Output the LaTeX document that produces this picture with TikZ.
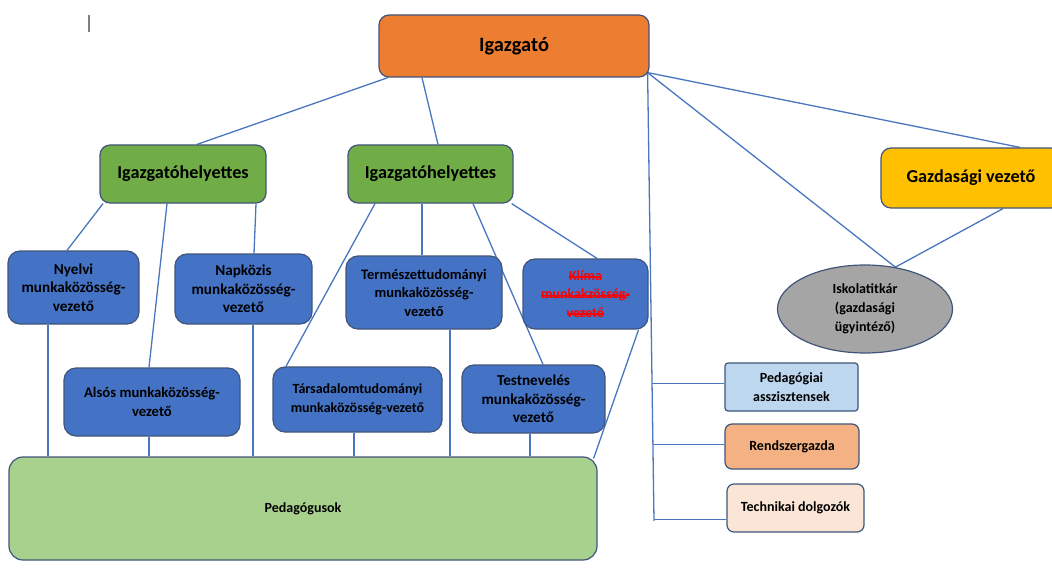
\documentclass[tikz,border=0pt]{standalone}
\usepackage{fontspec}
\setmainfont{Carlito}
\usetikzlibrary{shapes,calc,backgrounds,decorations.pathmorphing}

\definecolor{igcol}{HTML}{ED7D31}
\definecolor{hgcol}{HTML}{70AD47}
\definecolor{gvcol}{HTML}{FFC000}
\definecolor{mkcol}{HTML}{4472C4}
\definecolor{pedcol}{HTML}{A9D18E}
\definecolor{titkcol}{HTML}{A5A5A5}
\definecolor{asszcol}{HTML}{BDD7EE}
\definecolor{rendcol}{HTML}{F4B183}
\definecolor{techcol}{HTML}{FBE5D6}
\definecolor{edgecol}{HTML}{41557A}
\definecolor{linecol}{HTML}{4A76C0}
\definecolor{strikered}{HTML}{FF0000}

% Struck-through text
\newsavebox{\strkbox}
\newcommand{\strk}[1]{\sbox{\strkbox}{#1}%
    \rlap{\rule[0.42ex]{\wd\strkbox}{1.4pt}}\usebox{\strkbox}}

\begin{document}
\begin{tikzpicture}[
        x=1pt, y=-1pt,
        %
        % Looks of the boxes and the links
        box/.style={draw=edgecol, line width=1.2pt, rounded corners=10pt,
            inner sep=0pt, align=center,
            font=\bfseries\fontsize{14}{19}\selectfont},
        boss/.style={box, fill=igcol, font=\bfseries\fontsize{20.4}{24}\selectfont},
        deputy/.style={box, fill=hgcol, font=\bfseries\fontsize{18.2}{22}\selectfont},
        leader/.style={box, fill=mkcol, rounded corners=12pt,
            font=\bfseries\fontsize{15.2}{18.5}\selectfont},
        staff/.style={box, rounded corners=7pt},
        link/.style={draw=linecol, line width=1.3pt}
    ]

        % Fix the page to the size of the screenshot
        \useasboundingbox (0,0) rectangle (1052,583);

        % The stray text cursor in the top left corner
        \draw[gray, line width=1.5pt] (89,15) -- (89,32);

        % Draw the head and the two deputies
        \node[boss, minimum width=270pt, minimum height=62pt]
            (igazgato) at (514,46) {Igazgató};
        \node[deputy, minimum width=166pt, minimum height=58pt]
            (helyettesA) at (183,174) {Igazgatóhelyettes};
        \node[deputy, minimum width=165pt, minimum height=58pt]
            (helyettesB) at (430.5,174) {Igazgatóhelyettes};
        \node[deputy, fill=gvcol, minimum width=180pt, minimum height=60pt]
            (gazdasagi) at (971,178) {Gazdasági vezető};

        % Draw the upper row of the leaders
        \node[leader, minimum width=131pt, minimum height=73pt]
            (nyelvi) at (73.5,287.5) {Nyelvi\\munkaközösség-\\vezető};
        \node[leader, minimum width=137pt, minimum height=70pt]
            (napkozis) at (243.5,289) {Napközis\\munkaközösség-\\vezető};
        \node[leader, font=\bfseries\fontsize{14.5}{18.5}\selectfont,
              minimum width=156pt, minimum height=73pt]
            (termtud) at (424,292.5) {Természettudományi\\munkaközösség-\\vezető};
        \node[leader, text=strikered, font=\bfseries\fontsize{14}{18.5}\selectfont,
              minimum width=125pt, minimum height=70pt]
            (klima) at (585.5,294)
            {\strk{Klíma}\\\strk{munkakzösség-}\\\strk{vezető}};
        % The wavy spelling mark under the struck word
        \draw[strikered, line width=0.7pt,
              decorate, decoration={snake, segment length=3pt, amplitude=0.9pt}]
            ([shift={(-43pt,-3pt)}]klima.center) -- ([shift={(42pt,-3pt)}]klima.center);

        % Draw the lower row of the leaders
        \node[leader, font=\bfseries\fontsize{14.7}{18.5}\selectfont,
              minimum width=176pt, minimum height=68pt]
            (alsos) at (152,402) {Alsós munkaközösség-\\vezető};
        \node[leader, font=\bfseries\fontsize{14}{18.5}\selectfont,
              minimum width=169pt, minimum height=65pt]
            (tarsad) at (357.5,399.5) {Társadalomtudományi\\munkaközösség-vezető};
        \node[leader, minimum width=143pt, minimum height=68pt]
            (testnev) at (533.5,399) {Testnevelés\\munkaközösség-\\vezető};

        % Draw the teachers
        \node[box, fill=pedcol, rounded corners=14pt,
              minimum width=588pt, minimum height=103pt]
            (pedagogusok) at (303,508.5) {Pedagógusok};

        % Draw the school secretary
        \node[box, ellipse, fill=titkcol, minimum width=175pt, minimum height=88pt]
            (titkar) at (865,309) {Iskolatitkár\\(gazdasági\\ügyintéző)};

        % Draw the staff on the right
        \node[staff, fill=asszcol, rounded corners=3pt,
              minimum width=133pt, minimum height=48pt]
            (asszisztens) at (791.5,387) {Pedagógiai\\asszisztensek};
        \node[staff, fill=rendcol, minimum width=134pt, minimum height=45pt]
            (rendszergazda) at (792,446.5) {Rendszergazda};
        \node[staff, fill=techcol, minimum width=137pt, minimum height=48pt]
            (technikai) at (795.5,508) {Technikai dolgozók};

        % Put every link behind the boxes
        \begin{scope}[on background layer]

            % Links from the head
            \draw[link] ([xshift=-126pt]igazgato.south) -- ([xshift=14pt]helyettesA.north);
            \draw[link] ([xshift=-92pt]igazgato.south) -- ([xshift=7.5pt]helyettesB.north);
            \coordinate (corner) at ([shift={(-2pt,5pt)}]igazgato.south east);
            \draw[link] (corner) -- ([xshift=49pt]gazdasagi.north);
            \draw[link] (corner) -- (titkar.54);
            \draw[link] ([xshift=32pt]gazdasagi.south) -- (titkar.54);

            % The trunk down to the staff
            \coordinate (trunkend) at (654,521);
            \draw[link] (corner) -- (trunkend);
            \coordinate (brA) at ($(corner)!0.693!(trunkend)$);
            \coordinate (brB) at ($(corner)!0.829!(trunkend)$);
            \coordinate (brC) at ($(corner)!0.996!(trunkend)$);
            \draw[link] (brA) -- (brA -| asszisztens.west);
            \draw[link] (brB) -- (brB -| rendszergazda.west);
            \draw[link] (brC) -- (brC -| technikai.west);

            % Links from the first deputy
            \draw[link] ([xshift=-80pt]helyettesA.south) -- ([xshift=-6.5pt]nyelvi.north);
            \draw[link] ([xshift=-16pt]helyettesA.south) -- ([xshift=-3pt]alsos.north);
            \draw[link] ([xshift=73pt]helyettesA.south) -- ([xshift=10.5pt]napkozis.north);

            % Links from the second deputy
            \draw[link] ([xshift=-55.5pt]helyettesB.south) -- ([xshift=-71.5pt]tarsad.north);
            \draw[link] ([xshift=-8.5pt]helyettesB.south) -- ([xshift=-2pt]termtud.north);
            \draw[link] ([xshift=42.5pt]helyettesB.south) -- ([xshift=9.5pt]testnev.north);
            \draw[link] ([xshift=-2pt]helyettesB.south east) -- ([xshift=11.5pt]klima.north);

            % Links down to the teachers
            \coordinate (dnA) at ([xshift=-25.5pt]nyelvi.south);
            \coordinate (dnB) at ([xshift=-3pt]alsos.south);
            \coordinate (dnC) at ([xshift=9.5pt]napkozis.south);
            \coordinate (dnD) at ([xshift=-3.5pt]tarsad.south);
            \coordinate (dnE) at ([xshift=26pt]termtud.south);
            \coordinate (dnF) at ([xshift=-3.5pt]testnev.south);
            \foreach \p in {dnA,dnB,dnC,dnD,dnE,dnF}
                \draw[link] (\p) -- (\p |- pedagogusok.north);
            \draw[link] ([xshift=-10pt]klima.south east) -- ([xshift=-4pt,yshift=-2pt]pedagogusok.north east);

        \end{scope}

    \end{tikzpicture}
\end{document}
